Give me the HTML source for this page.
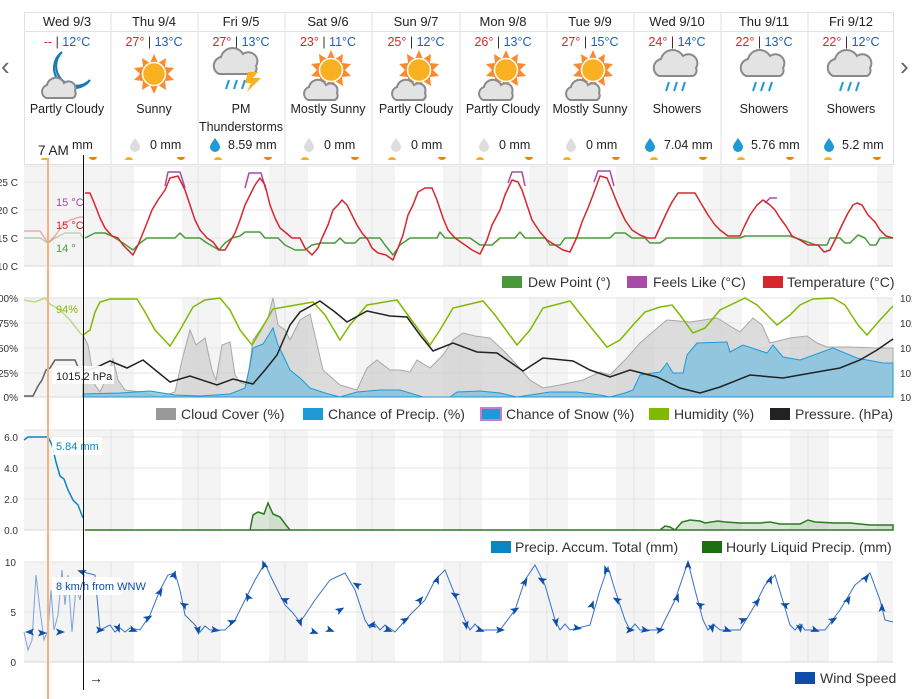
<!DOCTYPE html>
<html><head><meta charset="utf-8">
<style>
html,body{margin:0;padding:0;background:#fff;}
svg{display:block;font-family:"Liberation Sans",sans-serif;}
</style></head><body>
<svg width="912" height="699" viewBox="0 0 912 699" xmlns="http://www.w3.org/2000/svg">
<defs>
  <g id="sun"><polygon points="0,-20 4,-11 12,-16 11,-7 20,-6 14,0 20,6 11,7 12,16 4,11 0,20 -4,11 -12,16 -11,7 -20,6 -14,0 -20,-6 -11,-7 -12,-16 -4,-11" fill="#fb8a2e"/><circle r="11.5" fill="#f9b122" stroke="#fff" stroke-width="1.5"/></g>
  <g id="cloud"><path d="M-14,8 a7,7 0 0 1 1,-13 a9,9 0 0 1 17,-2 a7,7 0 0 1 11,8 a5,5 0 0 1 -2,7 z" fill="#e3e3e3" stroke="#8a8a8a" stroke-width="2"/></g>
  <g id="raincloud"><path d="M-18,4 a9,9 0 0 1 2,-17 a12,12 0 0 1 22,-3 a9,9 0 0 1 13,12 a6,6 0 0 1 -3,8 z" fill="#e3e3e3" stroke="#8a8a8a" stroke-width="2"/><path d="M-8,10 l-3,9 M0,10 l-3,9 M8,10 l-3,9" stroke="#1e9ad6" stroke-width="2"/></g>
  <g id="drop"><path d="M0,-6 C3,-2 5,1 5,3 a5,5 0 0 1 -10,0 C-5,1 -3,-2 0,-6z" /></g>
  <g id="ar"><path d="M0,-5 L3.5,4 L0,2 L-3.5,4z" fill="#0d4fa8"/></g>
  <g id="shade">
  <g fill="#f4f4f4">
  <rect x="24" y="166" width="71" height="100"/><rect x="95" y="166" width="39" height="100"/><rect x="182" y="166" width="39" height="100"/><rect x="269" y="166" width="39" height="100"/><rect x="356" y="166" width="39" height="100"/><rect x="443" y="166" width="39" height="100"/><rect x="529" y="166" width="39" height="100"/><rect x="616" y="166" width="39" height="100"/><rect x="703" y="166" width="39" height="100"/><rect x="790" y="166" width="39" height="100"/><rect x="877" y="166" width="16" height="100"/>
  </g>
  <g stroke="#e4e4e4" stroke-width="1">
  <line x1="111" y1="166" x2="111" y2="266"/><line x1="198" y1="166" x2="198" y2="266"/><line x1="285" y1="166" x2="285" y2="266"/><line x1="372" y1="166" x2="372" y2="266"/><line x1="460" y1="166" x2="460" y2="266"/><line x1="547" y1="166" x2="547" y2="266"/><line x1="634" y1="166" x2="634" y2="266"/><line x1="721" y1="166" x2="721" y2="266"/><line x1="808" y1="166" x2="808" y2="266"/>
  </g>
  </g>
</defs>

<text x="1" y="75" font-size="26" fill="#666">‹</text>
<text x="900" y="75" font-size="26" fill="#666">›</text>

<g stroke="#e2e2e2" stroke-width="1" fill="none">
<rect x="24.5" y="12.5" width="869" height="152"/>
<line x1="24" y1="31.5" x2="893" y2="31.5"/>
<line x1="111" y1="12" x2="111" y2="165"/><line x1="198" y1="12" x2="198" y2="165"/><line x1="285" y1="12" x2="285" y2="165"/><line x1="372" y1="12" x2="372" y2="165"/><line x1="460" y1="12" x2="460" y2="165"/><line x1="547" y1="12" x2="547" y2="165"/><line x1="634" y1="12" x2="634" y2="165"/><line x1="721" y1="12" x2="721" y2="165"/><line x1="808" y1="12" x2="808" y2="165"/>
</g>
<g font-size="13" fill="#222" text-anchor="middle">
<text x="67" y="26">Wed 9/3</text><text x="154" y="26">Thu 9/4</text><text x="241" y="26">Fri 9/5</text><text x="328" y="26">Sat 9/6</text><text x="416" y="26">Sun 9/7</text><text x="503" y="26">Mon 9/8</text><text x="590" y="26">Tue 9/9</text><text x="677" y="26">Wed 9/10</text><text x="764" y="26">Thu 9/11</text><text x="851" y="26">Fri 9/12</text>
</g>
<g font-size="12.5" text-anchor="middle">
<text x="67" y="46"><tspan fill="#d6262e">--</tspan><tspan fill="#333"> | </tspan><tspan fill="#1e5fb3">12°C</tspan></text>
<text x="154" y="46"><tspan fill="#d6262e">27°</tspan><tspan fill="#333"> | </tspan><tspan fill="#1e5fb3">13°C</tspan></text>
<text x="241" y="46"><tspan fill="#d6262e">27°</tspan><tspan fill="#333"> | </tspan><tspan fill="#1e5fb3">13°C</tspan></text>
<text x="328" y="46"><tspan fill="#d6262e">23°</tspan><tspan fill="#333"> | </tspan><tspan fill="#1e5fb3">11°C</tspan></text>
<text x="416" y="46"><tspan fill="#d6262e">25°</tspan><tspan fill="#333"> | </tspan><tspan fill="#1e5fb3">12°C</tspan></text>
<text x="503" y="46"><tspan fill="#d6262e">26°</tspan><tspan fill="#333"> | </tspan><tspan fill="#1e5fb3">13°C</tspan></text>
<text x="590" y="46"><tspan fill="#d6262e">27°</tspan><tspan fill="#333"> | </tspan><tspan fill="#1e5fb3">15°C</tspan></text>
<text x="677" y="46"><tspan fill="#d6262e">24°</tspan><tspan fill="#333"> | </tspan><tspan fill="#1e5fb3">14°C</tspan></text>
<text x="764" y="46"><tspan fill="#d6262e">22°</tspan><tspan fill="#333"> | </tspan><tspan fill="#1e5fb3">13°C</tspan></text>
<text x="851" y="46"><tspan fill="#d6262e">22°</tspan><tspan fill="#333"> | </tspan><tspan fill="#1e5fb3">12°C</tspan></text>
</g>
<path d="M62,52 a20,20 0 1 0 28,28 a16,16 0 0 1 -28,-28z" fill="#7cc6e8" stroke="#1a78b4" stroke-width="2"/>
<use href="#cloud" x="60" y="90"/>
<use href="#sun" x="154" y="74"/>
<use href="#raincloud" x="237" y="70"/>
<path d="M248,72 l10,0 -5,6 8,0 -14,14 4,-9 -6,0z" fill="#f9b122"/>
<use href="#sun" x="331" y="70"/><use href="#cloud" x="322" y="92"/>
<use href="#sun" x="419" y="70"/><use href="#cloud" x="410" y="92"/>
<use href="#sun" x="506" y="70"/><use href="#cloud" x="497" y="92"/>
<use href="#sun" x="593" y="70"/><use href="#cloud" x="584" y="92"/>
<use href="#raincloud" x="677" y="72"/><use href="#raincloud" x="764" y="72"/><use href="#raincloud" x="851" y="72"/>
<g font-size="12.5" fill="#222" text-anchor="middle">
<text x="67" y="113">Partly Cloudy</text><text x="154" y="113">Sunny</text><text x="241" y="113">PM</text><text x="241" y="131">Thunderstorms</text><text x="328" y="113">Mostly Sunny</text><text x="416" y="113">Partly Cloudy</text><text x="503" y="113">Partly Cloudy</text><text x="590" y="113">Mostly Sunny</text><text x="677" y="113">Showers</text><text x="764" y="113">Showers</text><text x="851" y="113">Showers</text>
</g>
<g font-size="12.5" fill="#222">
<text x="72" y="149">mm</text>
<use href="#drop" x="135" y="144" fill="#ddd"/><text x="150" y="149">0 mm</text>
<use href="#drop" x="215" y="144" fill="#1e9ad6"/><text x="228" y="149">8.59 mm</text>
<use href="#drop" x="309" y="144" fill="#ddd"/><text x="324" y="149">0 mm</text>
<use href="#drop" x="396" y="144" fill="#ddd"/><text x="411" y="149">0 mm</text>
<use href="#drop" x="484" y="144" fill="#ddd"/><text x="499" y="149">0 mm</text>
<use href="#drop" x="571" y="144" fill="#ddd"/><text x="586" y="149">0 mm</text>
<use href="#drop" x="650" y="144" fill="#1e9ad6"/><text x="664" y="149">7.04 mm</text>
<use href="#drop" x="738" y="144" fill="#1e9ad6"/><text x="751" y="149">5.76 mm</text>
<use href="#drop" x="829" y="144" fill="#1e9ad6"/><text x="842" y="149">5.2 mm</text>
</g>
<g fill="#f9b122">
<path d="M41,160 a4,3 0 0 1 8,0z"/><path d="M125,160 a4,3 0 0 1 8,0z"/><path d="M214,160 a4,3 0 0 1 8,0z"/><path d="M301,160 a4,3 0 0 1 8,0z"/><path d="M388,160 a4,3 0 0 1 8,0z"/><path d="M476,160 a4,3 0 0 1 8,0z"/><path d="M563,160 a4,3 0 0 1 8,0z"/><path d="M650,160 a4,3 0 0 1 8,0z"/><path d="M737,160 a4,3 0 0 1 8,0z"/><path d="M824,160 a4,3 0 0 1 8,0z"/>
</g>
<g fill="#e08a00">
<path d="M89,157 a4,3 0 0 0 8,0z"/><path d="M177,157 a4,3 0 0 0 8,0z"/><path d="M264,157 a4,3 0 0 0 8,0z"/><path d="M351,157 a4,3 0 0 0 8,0z"/><path d="M438,157 a4,3 0 0 0 8,0z"/><path d="M525,157 a4,3 0 0 0 8,0z"/><path d="M612,157 a4,3 0 0 0 8,0z"/><path d="M699,157 a4,3 0 0 0 8,0z"/><path d="M786,157 a4,3 0 0 0 8,0z"/><path d="M873,157 a4,3 0 0 0 8,0z"/>
</g>

<use href="#shade"/>
<use href="#shade" y="131"/>
<use href="#shade" y="264"/>
<use href="#shade" y="396"/>
<g stroke="#e4e4e4" stroke-width="1">
<line x1="24" y1="166" x2="893" y2="166"/><line x1="24" y1="182" x2="893" y2="182"/><line x1="24" y1="210" x2="893" y2="210"/><line x1="24" y1="238" x2="893" y2="238"/><line x1="24" y1="266" x2="893" y2="266" stroke="#d8d8d8"/>
<line x1="24" y1="298" x2="893" y2="298"/><line x1="24" y1="323" x2="893" y2="323"/><line x1="24" y1="348" x2="893" y2="348"/><line x1="24" y1="373" x2="893" y2="373"/><line x1="24" y1="397" x2="893" y2="397" stroke="#d8d8d8"/>
<line x1="24" y1="430" x2="893" y2="430"/><line x1="24" y1="437" x2="893" y2="437"/><line x1="24" y1="468" x2="893" y2="468"/><line x1="24" y1="499" x2="893" y2="499"/><line x1="24" y1="530" x2="893" y2="530" stroke="#d8d8d8"/>
<line x1="24" y1="562" x2="893" y2="562"/><line x1="24" y1="612" x2="893" y2="612"/><line x1="24" y1="662" x2="893" y2="662" stroke="#d8d8d8"/>
</g>

<g font-size="10" fill="#333" text-anchor="end">
<text x="18" y="186">25 C</text><text x="18" y="214">20 C</text><text x="18" y="242">15 C</text><text x="18" y="270">10 C</text>
<text x="18" y="302">100%</text><text x="18" y="327">75%</text><text x="18" y="352">50%</text><text x="18" y="377">25%</text><text x="18" y="401">0%</text>
<text x="18" y="441">6.0</text><text x="18" y="472">4.0</text><text x="18" y="503">2.0</text><text x="18" y="534">0.0</text>
<text x="16" y="566">10</text><text x="16" y="616">5</text><text x="16" y="666">0</text>
</g>
<g font-size="10" fill="#333">
<text x="900" y="302">102</text><text x="900" y="327">102</text><text x="900" y="352">101</text><text x="900" y="377">101</text><text x="900" y="401">101</text>
</g>

<g fill="none" stroke-width="1.5" stroke-linejoin="round">
<polyline opacity="0.35" stroke="#4a9a3c" points="24,238 40,238 48,243 55,238 65,233 80,233 83,238"/>
<polyline opacity="0.35" stroke="#d6262e" points="24,231 40,231 48,243 55,236 62,226 70,220 80,217 83,217"/>
<polyline stroke="#a64ca6" points="165,186 168,172 180,172 185,188"/>
<polyline stroke="#a64ca6" points="245,188 249,173 261,173 266,190"/>
<polyline stroke="#a64ca6" points="508,183 512,172 522,172 525,186"/>
<polyline stroke="#a64ca6" points="594,182 598,171 610,171 614,186"/>
<polyline stroke="#a64ca6" points="765,203 770,198 777,198"/>
<polyline stroke="#4a9a3c" points="85,238 95,233 105,233 112,236 123,243 133,250 140,243 147,238 175,238 180,233 185,238 200,238 207,243 219,250 225,243 232,238 240,236 245,232 260,232 265,238 278,238 285,245 295,250 305,250 312,245 322,243 335,243 340,238 345,243 355,243 360,238 380,238 385,245 393,255 400,245 410,238 437,238 440,232 445,238 470,238 480,245 492,245 500,238 515,238 520,232 525,238 545,238 550,245 560,245 565,238 610,238 615,233 625,233 632,238 645,238 650,243 660,243 667,238 740,238 745,236 790,236 816,245 827,245 830,238 840,238 845,243 850,243 855,238 858,235 865,238 870,245 876,245 880,238 893,238"/>
<polyline stroke="#d6262e" points="85,193 90,193 95,205 100,218 105,228 112,236 118,238 123,245 128,250 133,255 138,245 145,228 152,210 158,200 165,190 170,178 178,176 185,190 190,205 195,220 200,230 207,238 213,242 219,250 225,250 235,233 240,220 245,205 250,195 255,185 260,178 265,185 270,205 275,218 280,228 285,232 292,238 300,238 305,248 312,255 318,248 322,238 328,225 333,210 338,205 342,200 347,205 352,215 357,225 362,233 368,240 372,248 378,253 386,255 393,260 398,248 403,235 408,215 413,205 418,192 425,188 432,188 437,200 443,218 448,230 455,238 465,245 472,250 480,254 487,240 492,225 500,210 505,195 512,180 518,182 522,190 527,205 532,220 540,232 547,240 555,245 563,250 570,252 577,237 582,222 588,208 593,195 600,176 607,178 612,190 618,205 625,220 632,230 640,235 647,238 655,238 661,225 667,212 672,202 678,193 695,193 702,205 708,215 715,225 720,230 728,236 740,236 745,225 750,215 757,205 763,200 770,205 775,210 780,218 786,226 792,236 800,240 808,245 818,245 824,252 830,250 835,240 842,225 848,213 853,205 857,203 862,205 868,215 875,222 880,230 886,236 893,238"/>
</g>
<g font-size="11">
<text x="56" y="206" fill="#a64ca6">15 °C</text>
<text x="56" y="229" fill="#d6262e">15 °C</text>
<text x="56" y="252" fill="#4a9a3c">14 °</text>
</g>
<g font-size="14" fill="#333">
<rect x="502" y="276" width="20" height="12" fill="#4a9a3c"/><text x="528" y="287">Dew Point (°)</text>
<rect x="627" y="276" width="20" height="12" fill="#a64ca6"/><text x="653" y="287">Feels Like (°C)</text>
<rect x="763" y="276" width="20" height="12" fill="#d6262e"/><text x="787" y="287">Temperature (°C)</text>
</g>

<path fill="#d0d0d0" fill-opacity="0.75" stroke="#a8a8a8" stroke-width="1" d="M83,397 L83,335 88,345 95,385 100,392 108,375 113,359 118,380 125,390 140,392 160,397 175,392 182,360 190,330 196,345 205,338 212,370 216,380 222,345 230,342 235,375 240,382 247,385 253,340 260,330 268,318 273,298 278,325 285,330 290,340 300,320 310,314 316,340 323,370 340,385 357,390 367,368 377,360 390,370 400,370 410,372 417,360 430,368 443,355 453,340 463,333 475,336 490,338 505,352 517,365 530,380 543,388 560,385 583,380 600,372 610,375 625,360 640,343 655,330 667,320 690,322 717,318 730,326 740,332 753,318 762,325 770,343 790,338 807,336 817,343 827,347 850,347 877,348 893,348 893,397z"/>
<path fill="#7ec0de" fill-opacity="0.8" stroke="#1e9ad6" stroke-width="1" d="M83,397 L83,394 120,393 150,391 175,395 200,396 230,394 245,388 250,365 253,348 263,344 273,328 278,345 283,355 290,370 300,378 310,388 325,393 340,397 357,392 380,390 400,390 423,397 450,397 457,392 480,391 500,393 517,397 550,392 577,392 600,395 610,397 625,393 633,390 640,375 660,372 667,363 673,373 683,373 687,355 697,343 727,342 730,352 743,345 767,353 773,345 783,357 800,360 833,348 857,358 867,360 883,363 893,363 893,397z"/>
<polyline fill="none" stroke="#7fba00" stroke-width="1.5" opacity="0.45" points="24,300 35,302 45,298 50,304 60,310 70,320 80,333 83,335"/>
<polyline fill="none" stroke="#7fba00" stroke-width="1.5" points="83,335 90,330 95,312 100,302 110,299 137,299 145,312 155,330 170,346 180,330 193,307 205,300 220,298 230,310 240,330 252,345 262,328 273,309 290,306 313,302 325,315 340,340 350,325 367,305 397,300 410,318 430,345 440,330 453,308 483,301 495,315 517,345 530,330 543,308 570,301 585,320 607,347 620,340 633,325 645,312 660,307 672,305 680,315 693,333 705,328 720,310 745,298 757,305 777,325 790,315 800,305 813,299 833,298 845,305 858,325 867,335 880,320 893,306"/>
<polyline fill="none" stroke="#222" stroke-width="1.5" opacity="0.7" points="24,396 33,396 38,386 42,380 46,370 50,368 55,360 75,360 78,367 83,368"/>
<polyline fill="none" stroke="#222" stroke-width="1.5" points="83,371 95,368 110,361 127,368 143,360 170,382 190,376 217,385 233,379 253,384 265,370 277,355 290,325 300,312 320,301 335,312 347,322 367,311 390,316 407,317 420,335 433,351 453,343 477,352 497,353 510,362 523,371 543,358 573,361 590,370 610,377 630,370 657,377 680,388 700,393 720,387 750,375 783,378 817,372 840,368 860,360 877,350 893,339"/>
<rect x="52" y="366" width="62" height="18" fill="#fff" opacity="0.9"/>
<text x="56" y="380" font-size="11" fill="#222">1015.2 hPa</text>
<text x="56" y="313" font-size="11" fill="#7fba00">94%</text>
<g font-size="14" fill="#333">
<rect x="156" y="408" width="20" height="12" fill="#999"/><text x="181" y="419">Cloud Cover (%)</text>
<rect x="303" y="408" width="20" height="12" fill="#1e9ad6"/><text x="328" y="419">Chance of Precip. (%)</text>
<rect x="481" y="408" width="20" height="12" fill="#1e9ad6" stroke="#c77dc7" stroke-width="2"/><text x="506" y="419">Chance of Snow (%)</text>
<rect x="649" y="408" width="20" height="12" fill="#7fba00"/><text x="674" y="419">Humidity (%)</text>
<rect x="770" y="408" width="20" height="12" fill="#222"/><text x="795" y="419">Pressure. (hPa)</text>
</g>

<polyline fill="none" stroke="#0b86c2" stroke-width="1.5" points="24,440 28,437 48,437 52,445 56,462 60,476 64,479 68,490 73,500 78,505 83,518"/>
<rect x="52" y="437" width="50" height="18" fill="#fff" opacity="0.9"/>
<text x="56" y="450" font-size="11" fill="#0b86c2">5.84 mm</text>
<path fill="#2a7a1e" fill-opacity="0.18" stroke="#2a7a1e" stroke-width="1.5" d="M85,530 L250,530 253,515 258,512 264,514 268,503 273,514 280,517 286,525 290,530 660,530 665,526 670,527 675,530 682,522 690,520 700,521 705,523 718,521 725,522 740,523 750,523 760,523 770,522 780,524 800,524 808,520 815,522 835,523 850,523 870,525 893,525 893,530 85,530z"/>
<g font-size="14" fill="#333">
<rect x="491" y="541" width="20" height="12" fill="#0b86c2"/><text x="515" y="552">Precip. Accum. Total (mm)</text>
<rect x="702" y="541" width="20" height="12" fill="#1e6e14"/><text x="726" y="552">Hourly Liquid Precip. (mm)</text>
</g>

<polyline fill="none" stroke="#4a7fd0" stroke-width="1" opacity="0.7" points="24,632 28,650 32,640 36,575 40,610 44,640 48,630 51,590 54,630 58,615 62,570 65,605 68,575 72,632 76,588 80,600 83,580"/>
<polyline fill="none" stroke="#3570c8" stroke-width="1" points="83,572 95,575 100,630 110,625 115,632 120,628 125,632 130,628 140,630 150,615 160,590 168,575 175,573 180,590 185,615 195,625 200,632 205,626 210,630 225,630 235,620 245,600 255,580 265,563 270,575 275,585 285,605 292,612 300,622 305,615 315,600 330,580 345,573 355,590 365,620 370,628 375,624 380,630 385,625 395,632 410,615 425,600 435,580 445,570 455,595 465,620 470,630 475,624 480,630 500,630 515,610 525,580 535,565 545,585 555,620 560,630 565,624 570,630 590,625 600,590 608,567 615,590 625,620 630,630 635,624 640,630 660,630 675,600 688,562 695,590 703,620 708,630 713,624 720,630 740,630 755,605 765,585 775,575 782,598 790,625 795,630 800,624 805,630 825,630 840,610 855,585 870,573 880,600 885,620 893,622"/>
<g>
<use href="#ar" transform="translate(30,632) rotate(-90)"/><use href="#ar" transform="translate(42,633) rotate(90)"/><use href="#ar" transform="translate(60,632) rotate(90)"/><use href="#ar" transform="translate(82,572) rotate(-70)"/>
<use href="#ar" transform="translate(100,630) rotate(90)"/><use href="#ar" transform="translate(118,628) rotate(160)"/><use href="#ar" transform="translate(133,630) rotate(110)"/><use href="#ar" transform="translate(148,618) rotate(60)"/><use href="#ar" transform="translate(160,592) rotate(30)"/><use href="#ar" transform="translate(174,575) rotate(20)"/><use href="#ar" transform="translate(184,605) rotate(-60)"/><use href="#ar" transform="translate(198,630) rotate(170)"/><use href="#ar" transform="translate(215,630) rotate(100)"/><use href="#ar" transform="translate(232,622) rotate(70)"/><use href="#ar" transform="translate(248,597) rotate(-30)"/><use href="#ar" transform="translate(264,565) rotate(-20)"/><use href="#ar" transform="translate(285,600) rotate(-70)"/><use href="#ar" transform="translate(300,622) rotate(160)"/><use href="#ar" transform="translate(314,632) rotate(110)"/>
<use href="#ar" transform="translate(330,630) rotate(110)"/><use href="#ar" transform="translate(340,610) rotate(60)"/><use href="#ar" transform="translate(357,585) rotate(-60)"/><use href="#ar" transform="translate(372,625) rotate(-100)"/><use href="#ar" transform="translate(388,630) rotate(110)"/><use href="#ar" transform="translate(405,620) rotate(60)"/><use href="#ar" transform="translate(420,600) rotate(40)"/><use href="#ar" transform="translate(437,580) rotate(20)"/><use href="#ar" transform="translate(455,595) rotate(-60)"/><use href="#ar" transform="translate(466,625) rotate(170)"/><use href="#ar" transform="translate(480,630) rotate(110)"/><use href="#ar" transform="translate(500,630) rotate(90)"/><use href="#ar" transform="translate(515,610) rotate(60)"/><use href="#ar" transform="translate(525,582) rotate(30)"/><use href="#ar" transform="translate(542,580) rotate(-60)"/><use href="#ar" transform="translate(556,622) rotate(170)"/><use href="#ar" transform="translate(577,628) rotate(100)"/><use href="#ar" transform="translate(592,605) rotate(20)"/><use href="#ar" transform="translate(606,570) rotate(-20)"/><use href="#ar" transform="translate(617,600) rotate(-60)"/><use href="#ar" transform="translate(630,630) rotate(90)"/><use href="#ar" transform="translate(645,630) rotate(100)"/><use href="#ar" transform="translate(660,630) rotate(80)"/><use href="#ar" transform="translate(677,598) rotate(20)"/><use href="#ar" transform="translate(688,565) rotate(0)"/><use href="#ar" transform="translate(700,605) rotate(-60)"/><use href="#ar" transform="translate(712,628) rotate(170)"/><use href="#ar" transform="translate(727,630) rotate(110)"/><use href="#ar" transform="translate(743,620) rotate(70)"/><use href="#ar" transform="translate(757,602) rotate(40)"/><use href="#ar" transform="translate(770,580) rotate(20)"/><use href="#ar" transform="translate(785,605) rotate(-70)"/><use href="#ar" transform="translate(800,628) rotate(170)"/><use href="#ar" transform="translate(815,630) rotate(110)"/><use href="#ar" transform="translate(833,620) rotate(60)"/><use href="#ar" transform="translate(848,600) rotate(30)"/><use href="#ar" transform="translate(866,578) rotate(40)"/><use href="#ar" transform="translate(882,608) rotate(0)"/>
</g>
<rect x="52" y="577" width="70" height="18" fill="#fff" opacity="0.9"/>
<text x="56" y="590" font-size="11" fill="#0d4fa8">8 km/h from WNW</text>
<g font-size="14" fill="#333">
<rect x="795" y="672" width="20" height="12" fill="#0d4fa8"/><text x="820" y="683">Wind Speed</text>
</g>
<text x="89" y="683" font-size="14" fill="#222">→</text>

<line x1="48" y1="150" x2="48" y2="699" stroke="#f8b07c" stroke-width="2"/>
<line x1="83.5" y1="155" x2="83.5" y2="690" stroke="#111" stroke-width="1"/>
<rect x="36" y="140" width="34" height="18" fill="#fff"/>
<text x="38" y="155" font-size="13.5" fill="#222">7 AM</text>
</svg>
</body></html>
